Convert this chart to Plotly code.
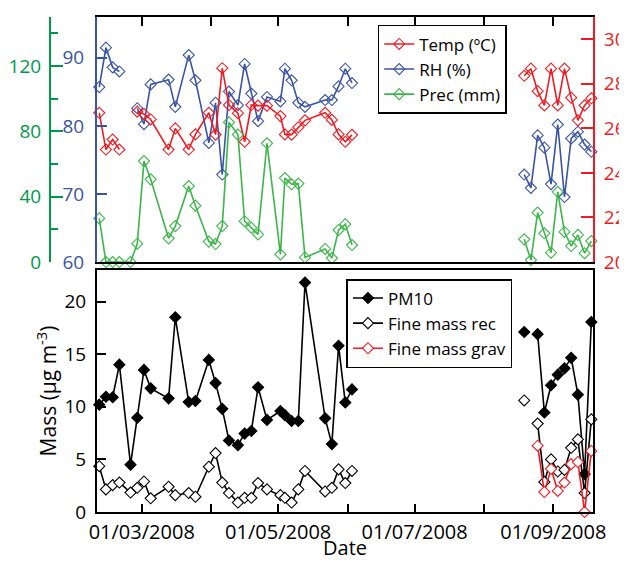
import plotly.graph_objects as go

# ---- dates (two sampling campaigns) ----
dates_spring = ["2008-02-11", "2008-02-14", "2008-02-17", "2008-02-20", "2008-02-25", "2008-02-28",
                "2008-03-02", "2008-03-05", "2008-03-13", "2008-03-16", "2008-03-22", "2008-03-25",
                "2008-03-31", "2008-04-03", "2008-04-06", "2008-04-09", "2008-04-13", "2008-04-16",
                "2008-04-19", "2008-04-22", "2008-04-26", "2008-05-02", "2008-05-04", "2008-05-07",
                "2008-05-10", "2008-05-13", "2008-05-22", "2008-05-25", "2008-05-28", "2008-05-31",
                "2008-06-03"]
dates_summer = ["2008-08-19", "2008-08-22", "2008-08-25", "2008-08-28", "2008-08-31", "2008-09-03",
                "2008-09-06", "2008-09-09", "2008-09-12", "2008-09-15", "2008-09-18"]

# ---- meteorology ----
temp_spring = [26.7, 25.05, 25.5, 25.05, None, 26.75, 26.65, 26.4, 25.05, 26.0, 25.05, 25.73,
               26.7, 25.72, 28.7, 27.05, 26.68, 25.4, 27.05, 27.02, 27.02, 26.55, 25.73, 25.72,
               26.05, 26.36, 26.7, 26.38, 25.73, 25.4, 25.71]
temp_summer = [28.36, 28.68, 27.67, 27.03, 28.68, 27.03, 28.68, 27.38, 26.36, 27.03, 27.35]

rh_spring = [85.7, 91.5, 88.6, 88.0, None, 82.6, 80.25, 86.1, 86.8, 82.8, 90.4, 86.7,
             77.5, 83.4, 72.85, 85.05, 83.05, 89.1, 84.75, 80.7, 84.25, 83.6, 88.4, 86.7,
             83.4, 82.8, 83.8, 83.8, 85.8, 88.4, 86.3]
rh_summer = [72.85, 70.9, 78.6, 76.8, 71.45, 80.2, 69.55, 78.15, 79.15, 77.25, 76.2]

prec_spring = [26.7, 0, 0, 0, 0, 11.2, 61.8, 50.6, 14.5, 22, 46.5, 34.5,
               12.5, 11, 22, 85.5, 78, 25, 21, 16.9, 72.7, 4.7, 51.4, 47.6,
               48, 2.8, 8, 2.4, 19.6, 23.2, 10.4]
prec_summer = [13.9, 1.2, 30.3, 17.6, 5.7, 43.0, 18.4, 9.8, 16.6, 5.4, 12.8]

# ---- aerosol mass ----
pm10_spring = [10.2, 10.95, 10.9, 14.0, 4.5, 8.95, 13.5, 11.75, 10.8, 18.5, 10.45, 10.55,
               14.45, 12.25, 9.8, 6.8, 6.35, 7.45, 7.7, 11.85, 8.75, 9.6, 9.2, 8.65,
               8.65, 21.8, 8.9, 6.45, 15.8, 10.4, 11.65]
pm10_summer = [17.1, None, 16.9, 9.45, 12.05, 13.05, 13.65, 14.65, 11.15, 3.6, 18.05]

rec_spring = [4.35, 2.15, 2.55, 2.8, 1.85, 2.3, 2.9, 1.3, 2.4, 1.6, 1.8, 1.45,
              4.3, 5.6, 2.8, 1.8, 0.9, 1.35, 1.35, 2.75, 2.15, 1.6, 1.35, 0.9,
              2.15, 3.9, 1.95, 2.3, 4.05, 2.75, 3.9]
rec_summer = [10.6, None, 8.4, 2.85, 5.0, 3.85, 4.0, 6.1, 6.9, 1.8, 8.8]

grav_spring = [None] * len(dates_spring)
grav_summer = [None, None, 6.3, 1.9, 4.1, 2.0, 2.8, 4.55, 4.75, 0.0, 5.8]

RED = "#ed1c24"
BLUE = "#3a53a4"
GREEN_LINE = "#3cb54a"
GREEN_AX = "#00994a"
FONT = "Open Sans"
TS = 19

fig = go.Figure()


def add_series(name, segs, xax, yax, color, symbol, legend, fill=None):
    for i, (d, v) in enumerate(segs):
        fig.add_trace(go.Scatter(
            x=d, y=v, name=name, xaxis=xax, yaxis=yax, mode="lines+markers",
            line=dict(color=color, width=1.6),
            marker=dict(symbol=symbol, size=8.5, color=fill if fill else color,
                        line=dict(color=color, width=1.1)),
            legend=legend, legendgroup=name, showlegend=(i == 0),
            connectgaps=False, cliponaxis=False))


add_series("Temp (ºC)", [(dates_spring, temp_spring), (dates_summer, temp_summer)],
           "x2", "y3", RED, "diamond-open", "legend")
add_series("RH (%)", [(dates_spring, rh_spring), (dates_summer, rh_summer)],
           "x2", "y2", BLUE, "diamond-open", "legend")
add_series("Prec (mm)", [(dates_spring, prec_spring), (dates_summer, prec_summer)],
           "x2", "y4", GREEN_LINE, "diamond-open", "legend")

add_series("PM10", [(dates_spring, pm10_spring), (dates_summer, pm10_summer)],
           "x", "y", "black", "diamond", "legend2")
add_series("Fine mass rec", [(dates_spring, rec_spring), (dates_summer, rec_summer)],
           "x", "y", "black", "diamond", "legend2", fill="white")
add_series("Fine mass grav", [(dates_spring, grav_spring), (dates_summer, grav_summer)],
           "x", "y", RED, "diamond", "legend2", fill="white")

d0 = 47 / 543
xrange = ["2008-02-10", "2008-09-18 18:00"]

# the page body adds an 8 px offset, so the figure is 8 px smaller than the window
fig.update_layout(
    width=619, height=556,
    margin=dict(l=42, r=34, t=9, b=52, autoexpand=False),
    paper_bgcolor="white", plot_bgcolor="white",
    font=dict(family=FONT, size=18, color="black"),
    xaxis=dict(domain=[d0, 1], anchor="y", range=xrange, type="date",
               tick0="2008-03-01", dtick="M2", tickformat="%d/%m/%Y",
               ticks="inside", ticklen=8, tickwidth=1.5, tickcolor="black",
               minor=dict(dtick="M1", tick0="2008-03-01", ticks="inside", ticklen=8,
                          tickwidth=1.5, tickcolor="black"),
               showline=True, linecolor="black", linewidth=2, mirror=True,
               showgrid=False, zeroline=False,
               tickfont=dict(family=FONT, size=20, color="black"),
               ticklabelstandoff=1, automargin=False),
    yaxis=dict(domain=[0, 0.489], anchor="x", range=[0, 23], dtick=5,
               ticks="inside", ticklen=9, tickwidth=1.5, tickcolor="black",
               showline=True, linecolor="black", linewidth=2, mirror=True,
               showgrid=False, zeroline=False,
               tickfont=dict(family=FONT, size=TS, color="black"), ticklabelstandoff=5,
               automargin=False,
               title=dict(text="Mass (µg m<sup>-3</sup>)", font=dict(family=FONT, size=21),
                          standoff=2)),
    xaxis2=dict(domain=[d0, 1], anchor="y2", matches="x", type="date", side="top",
                tick0="2008-03-01", dtick="M1", showticklabels=False,
                ticks="inside", ticklen=9, tickwidth=1.5, tickcolor="black",
                showline=True, linecolor="black", linewidth=2, mirror=True,
                showgrid=False, zeroline=False, automargin=False),
    yaxis2=dict(domain=[0.505, 1], anchor="x2", range=[60, 96], dtick=10,
                ticks="inside", ticklen=10, tickwidth=1.5, tickcolor=BLUE,
                showline=True, linecolor=BLUE, linewidth=2,
                showgrid=False, zeroline=False, ticklabelstandoff=7, automargin=False,
                tickfont=dict(family=FONT, size=TS, color=BLUE)),
    yaxis3=dict(overlaying="y2", anchor="x2", side="right", range=[20, 31], dtick=2,
                ticks="inside", ticklen=12, tickwidth=1.5, tickcolor=RED,
                showline=True, linecolor=RED, linewidth=2,
                showgrid=False, zeroline=False, ticklabelstandoff=5, automargin=False,
                tickfont=dict(family=FONT, size=TS, color=RED)),
    yaxis4=dict(overlaying="y2", anchor="free", position=0, side="left",
                range=[0, 150], dtick=40,
                ticks="inside", ticklen=12, tickwidth=1.5, tickcolor=GREEN_AX,
                minor=dict(dtick=20, ticks="inside", ticklen=7, tickwidth=1.5,
                           tickcolor=GREEN_AX),
                showline=True, linecolor=GREEN_AX, linewidth=2,
                showgrid=False, zeroline=False, ticklabelstandoff=4, automargin=False,
                tickfont=dict(family=FONT, size=TS, color=GREEN_AX)),
    legend=dict(x=0.6035, y=0.984, xanchor="left", yanchor="top",
                bordercolor="black", borderwidth=1.5, bgcolor="white",
                font=dict(family=FONT, size=17), tracegroupgap=0),
    legend2=dict(x=0.546, y=0.4707, xanchor="left", yanchor="top",
                 bordercolor="black", borderwidth=1.5, bgcolor="white",
                 font=dict(family=FONT, size=17), tracegroupgap=0),
    annotations=[dict(text="Date", xref="paper", yref="paper", x=(d0 + 1) / 2, y=0,
                      xanchor="center", yanchor="bottom", yshift=-51, showarrow=False,
                      font=dict(family=FONT, size=20, color="black"))],
)

fig.write_html("out.html")
